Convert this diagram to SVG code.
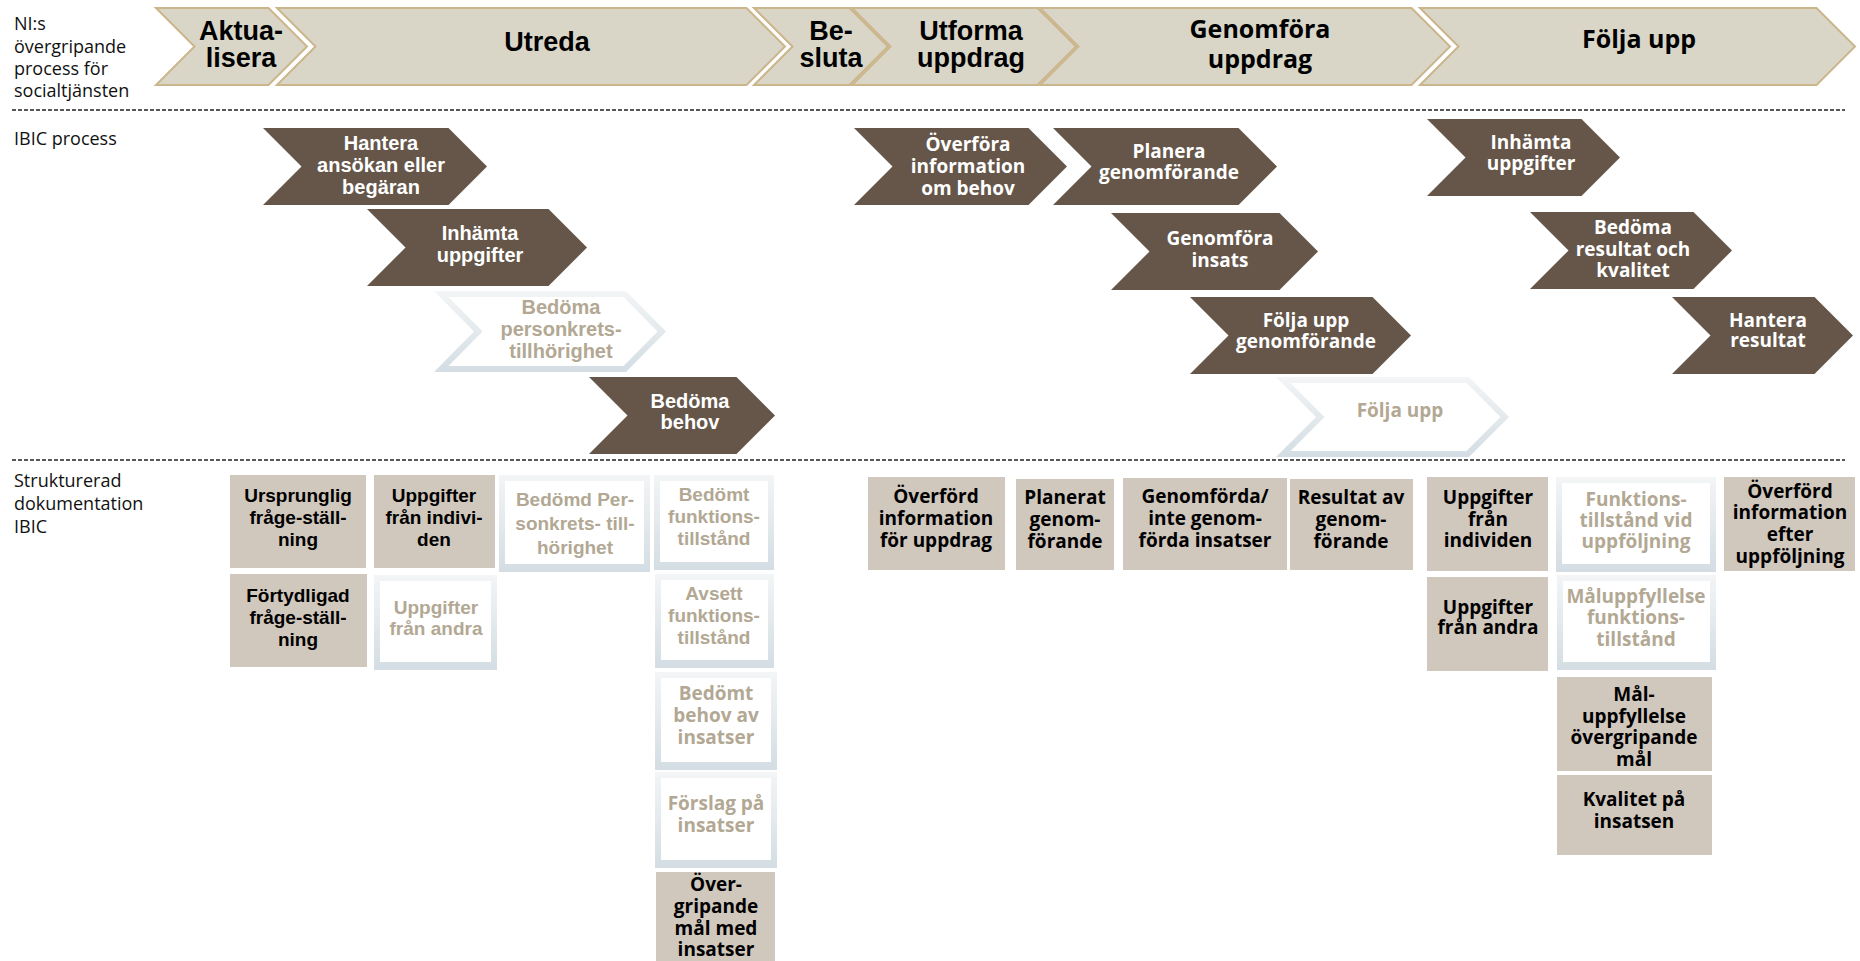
<svg xmlns="http://www.w3.org/2000/svg" width="1860" height="961" viewBox="0 0 1860 961">
<defs>
<linearGradient id="ghostGrad" x1="0" y1="0" x2="0" y2="1">
<stop offset="0" stop-color="#f3f5f6"/>
<stop offset="1" stop-color="#d3dde3"/>
</linearGradient>
<style>
.top-chev{fill:#d9d6c8;stroke:#cbb58b;stroke-width:2}
.dark-chev{fill:#655649}
.ghost-outer{fill:url(#ghostGrad)}
.ghost-inner{fill:#ffffff}
.box{fill:#d0c7bd}
.c{font-family:"Liberation Sans",Arial,sans-serif;font-weight:700;text-anchor:middle}
.w{font-family:"Open Sans","DejaVu Sans",sans-serif;font-weight:700;text-anchor:middle}
.lbl{font-family:"Open Sans","DejaVu Sans",sans-serif;font-size:18px;fill:#111}
.top{font-size:27px;fill:#000}
.topw{font-size:25px;fill:#000}
.ch{font-size:20px}
.chw{font-size:19px}
.bx{font-size:19px}
.wh{fill:#ffffff}
.gt{fill:#b2a893}
.bk{fill:#000000}
.sep{stroke:#222;stroke-width:1.5;stroke-dasharray:4 2;fill:none}
</style>
</defs>
<rect width="1860" height="961" fill="#ffffff"/>

<g id="labels">
<text class="lbl" x="14" y="30"><tspan x="14" y="30">NI:s</tspan><tspan x="14" y="53">övergripande</tspan><tspan x="14" y="75">process för</tspan><tspan x="14" y="97">socialtjänsten</tspan></text>
<text class="lbl" x="14" y="145">IBIC process</text>
<text class="lbl" x="14" y="487"><tspan x="14" y="487">Strukturerad</tspan><tspan x="14" y="510">dokumentation</tspan><tspan x="14" y="533">IBIC</tspan></text>
</g>

<g id="connectors">
<line class="sep" x1="12" y1="110" x2="1845" y2="110"/>
<line class="sep" x1="12" y1="460" x2="1845" y2="460"/>
</g>

<g id="top-aktualisera">
<polygon class="top-chev" points="156,8 268.5,8 307,46.5 268.5,85 156,85 194.5,46.5"/>
<text class="c top" x="241" y="40"><tspan x="241" y="40">Aktua-</tspan><tspan x="241" y="67">lisera</tspan></text>
</g>
<g id="top-utreda">
<polygon class="top-chev" points="277,8 746.5,8 785,46.5 746.5,85 277,85 315.5,46.5"/>
<text class="c top" x="547" y="51">Utreda</text>
</g>
<g id="top-besluta">
<polygon class="top-chev" points="754,8 849.5,8 888,46.5 849.5,85 754,85 792.5,46.5"/>
<text class="c top" x="831" y="40"><tspan x="831" y="40">Be-</tspan><tspan x="831" y="67">sluta</tspan></text>
</g>
<g id="top-utforma">
<polygon class="top-chev" points="852,8 1037.5,8 1076,46.5 1037.5,85 852,85 890.5,46.5"/>
<text class="c top" x="971" y="40"><tspan x="971" y="40">Utforma</tspan><tspan x="971" y="67">uppdrag</tspan></text>
</g>
<g id="top-genomfora">
<polygon class="top-chev" points="1040,8 1411.5,8 1450,46.5 1411.5,85 1040,85 1078.5,46.5"/>
<text class="w topw" x="1260" y="38"><tspan x="1260" y="38">Genomföra</tspan><tspan x="1260" y="68">uppdrag</tspan></text>
</g>
<g id="top-foljaupp">
<polygon class="top-chev" points="1420,8 1816.5,8 1855,46.5 1816.5,85 1420,85 1458.5,46.5"/>
<text class="w topw" x="1639" y="48">Följa upp</text>
</g>

<g id="ibic-hantera">
<polygon class="dark-chev" points="263,128 448.5,128 487,166.5 448.5,205 263,205 301.5,166.5"/>
<text class="c ch wh" x="381" y="150"><tspan x="381" y="150">Hantera</tspan><tspan x="381" y="172">ansökan eller</tspan><tspan x="381" y="194">begäran</tspan></text>
</g>
<g id="ibic-inhamta">
<polygon class="dark-chev" points="367,209 548.5,209 587,247.5 548.5,286 367,286 405.5,247.5"/>
<text class="c ch wh" x="480" y="240"><tspan x="480" y="240">Inhämta</tspan><tspan x="480" y="262">uppgifter</tspan></text>
</g>
<g id="ibic-personkrets">
<polygon class="ghost-outer" points="434,291 626,291 666,331.5 626,372 434,372 474,331.5"/>
<polygon class="ghost-inner" points="448.5,297 623.5,297 657.5,331.5 623.5,366 448.5,366 482.5,331.5"/>
<text class="c ch gt" x="561" y="314"><tspan x="561" y="314">Bedöma</tspan><tspan x="561" y="336">personkrets-</tspan><tspan x="561" y="358">tillhörighet</tspan></text>
</g>
<g id="ibic-bedoma-behov">
<polygon class="dark-chev" points="589,377 736.5,377 775,415.5 736.5,454 589,454 627.5,415.5"/>
<text class="c ch wh" x="690" y="408"><tspan x="690" y="408">Bedöma</tspan><tspan x="690" y="429">behov</tspan></text>
</g>
<g id="ibic-overfora">
<polygon class="dark-chev" points="854,128 1028.5,128 1067,166.5 1028.5,205 854,205 892.5,166.5"/>
<text class="w chw wh" x="968" y="151"><tspan x="968" y="151">Överföra</tspan><tspan x="968" y="173">information</tspan><tspan x="968" y="195">om behov</tspan></text>
</g>
<g id="ibic-planera">
<polygon class="dark-chev" points="1053,128 1238.5,128 1277,166.5 1238.5,205 1053,205 1091.5,166.5"/>
<text class="w chw wh" x="1169" y="158"><tspan x="1169" y="158">Planera</tspan><tspan x="1169" y="179">genomförande</tspan></text>
</g>
<g id="ibic-genomfora-insats">
<polygon class="dark-chev" points="1111,213 1279.5,213 1318,251.5 1279.5,290 1111,290 1149.5,251.5"/>
<text class="w chw wh" x="1220" y="245"><tspan x="1220" y="245">Genomföra</tspan><tspan x="1220" y="267">insats</tspan></text>
</g>
<g id="ibic-folja-genomforande">
<polygon class="dark-chev" points="1190,297 1372.5,297 1411,335.5 1372.5,374 1190,374 1228.5,335.5"/>
<text class="w chw wh" x="1306" y="327"><tspan x="1306" y="327">Följa upp</tspan><tspan x="1306" y="348">genomförande</tspan></text>
</g>
<g id="ibic-folja-upp">
<polygon class="ghost-outer" points="1276,377 1469,377 1509,417 1469,457 1276,457 1316,417"/>
<polygon class="ghost-inner" points="1290.5,383 1466.5,383 1500.5,417 1466.5,451 1290.5,451 1324.5,417"/>
<text class="w chw gt" x="1400" y="417">Följa upp</text>
</g>
<g id="ibic-inhamta-2">
<polygon class="dark-chev" points="1427,119 1581.5,119 1620,157.5 1581.5,196 1427,196 1465.5,157.5"/>
<text class="w chw wh" x="1531" y="149"><tspan x="1531" y="149">Inhämta</tspan><tspan x="1531" y="170">uppgifter</tspan></text>
</g>
<g id="ibic-bedoma-resultat">
<polygon class="dark-chev" points="1530,212 1693.5,212 1732,250.5 1693.5,289 1530,289 1568.5,250.5"/>
<text class="w chw wh" x="1633" y="234"><tspan x="1633" y="234">Bedöma</tspan><tspan x="1633" y="256">resultat och</tspan><tspan x="1633" y="277">kvalitet</tspan></text>
</g>
<g id="ibic-hantera-resultat">
<polygon class="dark-chev" points="1672,297 1814.5,297 1853,335.5 1814.5,374 1672,374 1710.5,335.5"/>
<text class="w chw wh" x="1768" y="327"><tspan x="1768" y="327">Hantera</tspan><tspan x="1768" y="347">resultat</tspan></text>
</g>

<g id="doc-ursprunglig">
<rect class="box" x="230" y="475" width="136" height="93"/>
<text class="c bx bk" x="298" y="502"><tspan x="298" y="502">Ursprunglig</tspan><tspan x="298" y="524">fråge-ställ-</tspan><tspan x="298" y="546">ning</tspan></text>
</g>
<g id="doc-uppgifter-individen">
<rect class="box" x="374" y="475" width="121" height="93"/>
<text class="c bx bk" x="434" y="502"><tspan x="434" y="502">Uppgifter</tspan><tspan x="434" y="524">från indivi-</tspan><tspan x="434" y="546">den</tspan></text>
</g>
<g id="doc-personkrets">
<rect class="ghost-outer" x="499" y="475" width="151" height="97"/>
<rect class="ghost-inner" x="505" y="481" width="139" height="83"/>
<text class="c bx gt" x="575" y="506"><tspan x="575" y="506">Bedömd Per-</tspan><tspan x="575" y="530">sonkrets- till-</tspan><tspan x="575" y="554">hörighet</tspan></text>
</g>
<g id="doc-bedomt-funktion">
<rect class="ghost-outer" x="654" y="475" width="120" height="95"/>
<rect class="ghost-inner" x="660" y="481" width="108" height="81"/>
<text class="c bx gt" x="714" y="501"><tspan x="714" y="501">Bedömt</tspan><tspan x="714" y="523">funktions-</tspan><tspan x="714" y="545">tillstånd</tspan></text>
</g>
<g id="doc-fortydligad">
<rect class="box" x="230" y="574" width="137" height="93"/>
<text class="c bx bk" x="298" y="602"><tspan x="298" y="602">Förtydligad</tspan><tspan x="298" y="624">fråge-ställ-</tspan><tspan x="298" y="646">ning</tspan></text>
</g>
<g id="doc-uppgifter-andra">
<rect class="ghost-outer" x="374" y="575" width="123" height="95"/>
<rect class="ghost-inner" x="380" y="581" width="111" height="81"/>
<text class="c bx gt" x="436" y="614"><tspan x="436" y="614">Uppgifter</tspan><tspan x="436" y="635">från andra</tspan></text>
</g>
<g id="doc-avsett-funktion">
<rect class="ghost-outer" x="655" y="574" width="119" height="94"/>
<rect class="ghost-inner" x="661" y="580" width="107" height="80"/>
<text class="c bx gt" x="714" y="600"><tspan x="714" y="600">Avsett</tspan><tspan x="714" y="622">funktions-</tspan><tspan x="714" y="644">tillstånd</tspan></text>
</g>
<g id="doc-bedomt-behov">
<rect class="ghost-outer" x="655" y="672" width="122" height="98"/>
<rect class="ghost-inner" x="661" y="678" width="110" height="84"/>
<text class="w bx gt" x="716" y="700"><tspan x="716" y="700">Bedömt</tspan><tspan x="716" y="722">behov av</tspan><tspan x="716" y="744">insatser</tspan></text>
</g>
<g id="doc-forslag">
<rect class="ghost-outer" x="655" y="772" width="122" height="96"/>
<rect class="ghost-inner" x="661" y="778" width="110" height="82"/>
<text class="w bx gt" x="716" y="810"><tspan x="716" y="810">Förslag på</tspan><tspan x="716" y="832">insatser</tspan></text>
</g>
<g id="doc-overgripande-mal">
<rect class="box" x="656" y="872" width="119" height="89"/>
<text class="w bx bk" x="716" y="891"><tspan x="716" y="891">Över-</tspan><tspan x="716" y="913">gripande</tspan><tspan x="716" y="935">mål med</tspan><tspan x="716" y="956">insatser</tspan></text>
</g>

<g id="doc-overford-uppdrag">
<rect class="box" x="868" y="477" width="137" height="93"/>
<text class="w bx bk" x="936" y="503"><tspan x="936" y="503">Överförd</tspan><tspan x="936" y="525">information</tspan><tspan x="936" y="547">för uppdrag</tspan></text>
</g>
<g id="doc-planerat">
<rect class="box" x="1016" y="479" width="98" height="91"/>
<text class="w bx bk" x="1065" y="504"><tspan x="1065" y="504">Planerat</tspan><tspan x="1065" y="526">genom-</tspan><tspan x="1065" y="548">förande</tspan></text>
</g>
<g id="doc-genomforda">
<rect class="box" x="1123" y="478" width="164" height="92"/>
<text class="w bx bk" x="1205" y="503"><tspan x="1205" y="503">Genomförda/</tspan><tspan x="1205" y="525">inte genom-</tspan><tspan x="1205" y="547">förda insatser</tspan></text>
</g>
<g id="doc-resultat">
<rect class="box" x="1290" y="479" width="123" height="91"/>
<text class="w bx bk" x="1351" y="504"><tspan x="1351" y="504">Resultat av</tspan><tspan x="1351" y="526">genom-</tspan><tspan x="1351" y="548">förande</tspan></text>
</g>

<g id="doc-uppgifter-individen-2">
<rect class="box" x="1427" y="477" width="121" height="94"/>
<text class="w bx bk" x="1488" y="504"><tspan x="1488" y="504">Uppgifter</tspan><tspan x="1488" y="526">från</tspan><tspan x="1488" y="547">individen</tspan></text>
</g>
<g id="doc-funktion-uppfoljning">
<rect class="ghost-outer" x="1556" y="477" width="160" height="95"/>
<rect class="ghost-inner" x="1562" y="483" width="148" height="81"/>
<text class="w bx gt" x="1636" y="506"><tspan x="1636" y="506">Funktions-</tspan><tspan x="1636" y="527">tillstånd vid</tspan><tspan x="1636" y="548">uppföljning</tspan></text>
</g>
<g id="doc-overford-efter">
<rect class="box" x="1724" y="477" width="131" height="94"/>
<text class="w bx bk" x="1790" y="498"><tspan x="1790" y="498">Överförd</tspan><tspan x="1790" y="519">information</tspan><tspan x="1790" y="541">efter</tspan><tspan x="1790" y="563">uppföljning</tspan></text>
</g>
<g id="doc-uppgifter-andra-2">
<rect class="box" x="1427" y="577" width="121" height="94"/>
<text class="w bx bk" x="1488" y="614"><tspan x="1488" y="614">Uppgifter</tspan><tspan x="1488" y="634">från andra</tspan></text>
</g>
<g id="doc-maluppfyllelse-funktion">
<rect class="ghost-outer" x="1557" y="575" width="159" height="95"/>
<rect class="ghost-inner" x="1563" y="581" width="147" height="81"/>
<text class="w bx gt" x="1636" y="603"><tspan x="1636" y="603">Måluppfyllelse</tspan><tspan x="1636" y="624">funktions-</tspan><tspan x="1636" y="646">tillstånd</tspan></text>
</g>
<g id="doc-maluppfyllelse-overgripande">
<rect class="box" x="1557" y="677" width="155" height="94"/>
<text class="w bx bk" x="1634" y="701"><tspan x="1634" y="701">Mål-</tspan><tspan x="1634" y="723">uppfyllelse</tspan><tspan x="1634" y="744">övergripande</tspan><tspan x="1634" y="766">mål</tspan></text>
</g>
<g id="doc-kvalitet">
<rect class="box" x="1557" y="775" width="155" height="80"/>
<text class="w bx bk" x="1634" y="806"><tspan x="1634" y="806">Kvalitet på</tspan><tspan x="1634" y="828">insatsen</tspan></text>
</g>
</svg>
